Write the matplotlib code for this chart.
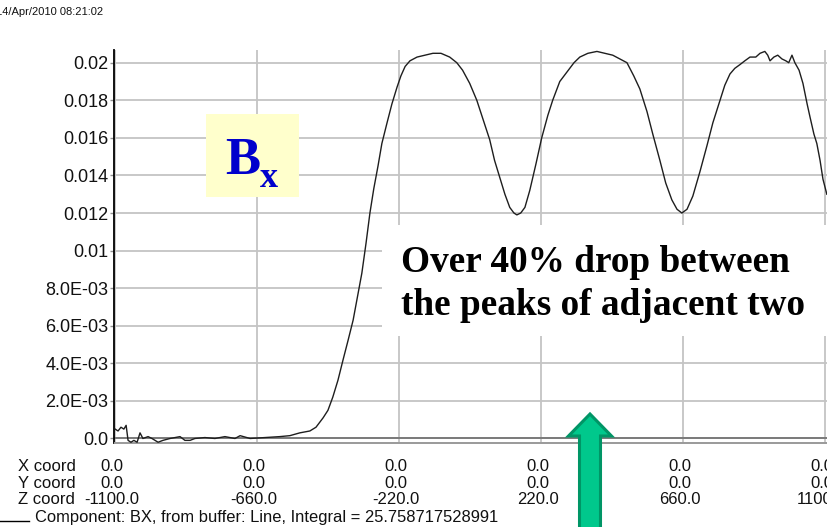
import matplotlib
matplotlib.use("Agg")
import matplotlib.pyplot as plt
import matplotlib.transforms as mtransforms
from matplotlib.patches import Rectangle, Polygon
from matplotlib.lines import Line2D

# ---------------- data ----------------
z_coord = [-1098, -1089, -1080, -1071, -1064, -1058, -1049, -1040, -1030, -1021,
           -1012, -996, -984, -965, -950, -928, -897, -882, -866, -851,
           -820, -789, -758, -727, -711, -680, -634, -588, -557, -526,
           -495, -476, -454, -439, -424, -408, -392, -377, -361, -349,
           -334, -321, -309, -297, -284, -272, -256, -241, -225, -213,
           -200, -185, -163, -139, -114, -89, -62, -40, -22, 0,
           22, 41, 62, 77, 93, 109, 124, 137, 146, 158,
           171, 186, 205, 223, 242, 257, 279, 301, 323, 341,
           366, 394, 419, 443, 465, 487, 508, 527, 549, 567,
           589, 607, 626, 642, 657, 673, 691, 713, 735, 753,
           775, 790, 806, 821, 837, 852, 868, 886, 899, 914,
           923, 930, 942, 954, 967, 979, 988, 998, 1007, 1020,
           1032, 1045, 1054, 1066, 1075, 1085, 1094, 1106]
bx = [0.0005, 0.0004, 0.0006, 0.0005, 0.0007, -0.0001, -0.0002, -0.0001, -0.0002, 0.0003,
      0.0000, 0.0001, 0.0000, -0.0002, -0.0001, 0.0000, 0.0001, -0.0001, -0.0001, 0.0000,
      0.00005, 0.0000, 0.0001, 0.0000, 0.00015, 0.0000, 0.00005, 0.0001, 0.00015, 0.0003,
      0.0004, 0.0006, 0.0011, 0.0015, 0.0022, 0.0031, 0.0042, 0.0052, 0.0063, 0.0074,
      0.0088, 0.0104, 0.0120, 0.0133, 0.0145, 0.0157, 0.0168, 0.0178, 0.0187, 0.0193,
      0.0198, 0.0201, 0.0203, 0.0204, 0.0205, 0.0205, 0.0203, 0.0200, 0.0196, 0.0189,
      0.0180, 0.0170, 0.0159, 0.0148, 0.0139, 0.0130, 0.0123, 0.0120, 0.0119, 0.0120,
      0.0123, 0.0132, 0.0146, 0.0160, 0.0172, 0.0180, 0.0190, 0.0195, 0.0200, 0.0203,
      0.0205, 0.0206, 0.0205, 0.0204, 0.0202, 0.0200, 0.0193, 0.0186, 0.0174, 0.0162,
      0.0148, 0.0136, 0.0127, 0.0122, 0.0120, 0.0122, 0.0129, 0.0142, 0.0156, 0.0168,
      0.0180, 0.0188, 0.0194, 0.0197, 0.0199, 0.0201, 0.0203, 0.0203, 0.0205, 0.0206,
      0.0204, 0.0201, 0.0203, 0.0204, 0.0202, 0.0201, 0.0200, 0.0204, 0.0200, 0.0196,
      0.0189, 0.0178, 0.0171, 0.0162, 0.0157, 0.0148, 0.0138, 0.0130]

ytick_values = [0.0, 0.002, 0.004, 0.006, 0.008, 0.010, 0.012, 0.014, 0.016, 0.018, 0.020]
ytick_labels = ["0.0", "2.0E-03", "4.0E-03", "6.0E-03", "8.0E-03", "0.01",
                "0.012", "0.014", "0.016", "0.018", "0.02"]
column_z = [-1100.0, -660.0, -220.0, 220.0, 660.0, 1100.0]
column_x = [0.0, 0.0, 0.0, 0.0, 0.0, 0.0]
column_y = [0.0, 0.0, 0.0, 0.0, 0.0, 0.0]
row_names = ["X coord", "Y coord", "Z coord"]
date_text = "14/Apr/2010 08:21:02"
legend_text = "Component: BX, from buffer: Line, Integral = 25.758717528991"
note_text = "Over 40% drop between\nthe peaks of adjacent two"

# ---------------- layout helpers ----------------
W, H = 827, 527
fig = plt.figure(figsize=(W / 100, H / 100), dpi=100)
fig.patch.set_facecolor("white")

def fx(px):
    return px / W

def fy(py):
    return 1 - py / H

SANS = ["Liberation Sans", "DejaVu Sans"]
SERIF = ["Liberation Serif", "DejaVu Serif"]

ax = fig.add_axes([fx(114.5), fy(443), 1 - fx(114.5), (443 - 50) / H])
ax.set_xlim(-1100, 1106.5)
ax.set_ylim(-0.00024, 0.020676)

grid_col = "#c4c4c4"
ax.set_xticks(column_z)
ax.set_yticks(ytick_values)
ax.set_yticklabels(ytick_labels, fontfamily=SANS, fontsize=13, color="#111111")
ax.tick_params(axis="x", length=0, labelbottom=False)
ax.tick_params(axis="y", length=3, width=1, color="#909090", pad=1.5)
ax.grid(True, color=grid_col, lw=1.3, zorder=0)
ax.set_axisbelow(True)

for s in ["top", "right"]:
    ax.spines[s].set_visible(False)
ax.spines["left"].set_color("black")
ax.spines["left"].set_linewidth(1.3)
ax.spines["bottom"].set_color("#9a9a9a")
ax.spines["bottom"].set_linewidth(1.4)

ax.axhline(0, color="#7a7a7a", lw=1.4, zorder=1)

# white box behind annotation
ax.add_patch(Rectangle((fx(382), fy(336)), fx(460), (336 - 225) / H,
                       transform=fig.transFigure, facecolor="white",
                       edgecolor="none", zorder=1.5))
# yellow Bx box
ax.add_patch(Rectangle((fx(206), fy(197)), fx(93), (197 - 114) / H,
                       transform=fig.transFigure, facecolor="#ffffcc",
                       edgecolor="none", zorder=1.5))

ax.plot(z_coord, bx, color="#1e1e1e", lw=1.0, zorder=3)

# Bx label
fig.text(fx(225), fy(174), "B", fontfamily=SERIF, fontweight="bold",
         fontsize=38, color="#0000cc", va="baseline", ha="left")
fig.text(fx(260), fy(187), "x", fontfamily=SERIF, fontweight="bold",
         fontsize=26, color="#0000cc", va="baseline", ha="left")

# annotation
lines = note_text.split("\n")
fig.text(fx(401), fy(272), lines[0], fontfamily=SERIF,
         fontweight="bold", fontsize=26.8, color="black", va="baseline", ha="left")
fig.text(fx(401), fy(315), lines[1], fontfamily=SERIF,
         fontweight="bold", fontsize=26.8, color="black", va="baseline", ha="left")

# coordinate rows
blend = mtransforms.blended_transform_factory(ax.transData, fig.transFigure)
blend = mtransforms.offset_copy(blend, fig=fig, x=-3, y=0, units="dots")
row_base = [470.7, 487.7, 504.3]
rows = [column_x, column_y, column_z]
for name, vals, yb in zip(row_names, rows, row_base):
    fig.text(fx(18), fy(yb), name, fontfamily=SANS, fontsize=12,
             color="#111111", va="baseline", ha="left")
    for zc, v in zip(column_z, vals):
        fig.text(zc, fy(yb), f"{v:.1f}", transform=blend, fontfamily=SANS,
                 fontsize=12, color="#111111", va="baseline", ha="center")

# legend line and text
fig.add_artist(Line2D([0, fx(29)], [fy(520.5), fy(520.5)], color="black",
                      lw=1.0, transform=fig.transFigure))
fig.text(fx(35), fy(521.7), legend_text, fontfamily=SANS, fontsize=11.85,
         color="#111111", va="baseline", ha="left")

# date
fig.text(fx(103), fy(15), date_text, fontfamily=SANS, fontsize=8,
         color="#111111", va="baseline", ha="right")

# green arrow
arrow_px = [(590, 414), (611.5, 436), (600.5, 436), (600.5, 535),
            (579.5, 535), (579.5, 436), (568.5, 436)]
fig.add_artist(Polygon([(fx(a), fy(b)) for a, b in arrow_px], closed=True,
                       transform=fig.transFigure, facecolor="#00c88c",
                       edgecolor="#009566", lw=2.2, zorder=10))

fig.savefig("out.png", dpi=100)
